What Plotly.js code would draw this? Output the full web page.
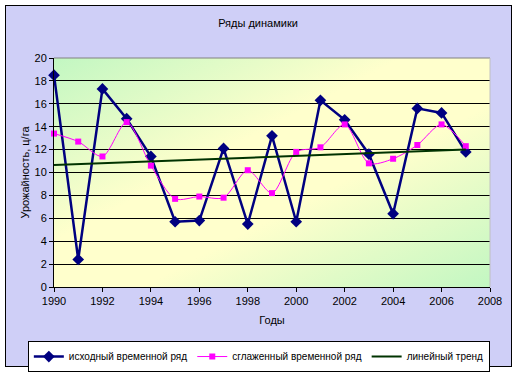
<!DOCTYPE html>
<html>
<head>
<meta charset="utf-8">
<script src="https://cdn.plot.ly/plotly-3.0.1.min.js"></script>
<style>
  html, body { margin:0; padding:0; background:#ffffff; }
  #frame { position:absolute; left:5px; top:5px; width:505px; height:360px;
           border:1px solid #000; background:#cfcff7; }
  #chart { position:absolute; left:0; top:0; width:516px; height:372px; }
</style>
</head>
<body>
<div id="frame"></div>
<div id="chart"></div>
<script>
const years = [1990,1991,1992,1993,1994,1995,1996,1997,1998,1999,2000,2001,2002,2003,2004,2005,2006,2007];
const original = [18.5,2.4,17.3,14.7,11.4,5.7,5.8,12.1,5.5,13.2,5.7,16.3,14.6,11.6,6.4,15.6,15.2,11.8];
const smoothed = [13.4,12.7,11.4,14.4,10.6,7.7,7.9,7.8,10.2,8.2,11.8,12.2,14.2,10.8,11.2,12.4,14.2,12.3];
const trendYears = [1990, 2007];
const trendValues = [10.65, 12.0];
const xTicks = [1990,1992,1994,1996,1998,2000,2002,2004,2006,2008];
const yTicks = [0,2,4,6,8,10,12,14,16,18,20];
const names = ['исходный временной ряд', 'сглаженный временной ряд', 'линейный тренд'];

const FONT = 'Arial, "Liberation Sans", sans-serif';

const gradSvg = '<svg xmlns="http://www.w3.org/2000/svg" width="100" height="100" preserveAspectRatio="none">' +
  '<defs><linearGradient id="g" x1="0" y1="0" x2="1" y2="1">' +
  '<stop offset="0" stop-color="#c2f7c2"/>' +
  '<stop offset="0.4" stop-color="#ffffcc"/>' +
  '<stop offset="0.6" stop-color="#ffffcc"/>' +
  '<stop offset="1" stop-color="#c2f7c2"/>' +
  '</linearGradient></defs><rect width="100" height="100" fill="url(#g)"/></svg>';
const gradUri = 'data:image/svg+xml;charset=utf-8,' + encodeURIComponent(gradSvg);

const traces = [
  { x: years, y: original, name: names[0], type: 'scatter', mode: 'lines+markers',
    line: { color: '#000080', width: 2.5 },
    marker: { symbol: 'diamond', size: 9, color: '#000080' }, cliponaxis: false },
  { x: years, y: smoothed, name: names[1], type: 'scatter', mode: 'lines+markers',
    line: { color: '#ff00ff', width: 1, shape: 'spline', smoothing: 0.8 },
    marker: { symbol: 'square', size: 6, color: '#ff00ff' }, cliponaxis: false },
  { x: trendYears, y: trendValues, name: names[2], type: 'scatter', mode: 'lines',
    line: { color: '#003300', width: 2 } }
];

const layout = {
  width: 516, height: 372,
  margin: { l: 54, r: 26, t: 58, b: 85, autoexpand: false },
  paper_bgcolor: 'rgba(0,0,0,0)',
  plot_bgcolor: 'rgba(0,0,0,0)',
  font: { family: FONT, size: 11, color: '#000' },
  title: { text: 'Ряды динамики', font: { family: FONT, size: 11, color: '#000' },
           x: 0.5, xanchor: 'center', y: 1 - 23/372, yanchor: 'middle' },
  xaxis: {
    range: [1990, 2008], tickvals: xTicks, ticktext: xTicks.map(String),
    showgrid: false, zeroline: false,
    showline: true, linecolor: '#000', linewidth: 1, mirror: false,
    ticks: 'outside', ticklen: 4, tickcolor: '#000',
    tickfont: { family: FONT, size: 11 },
    title: { text: 'Годы', font: { family: FONT, size: 11 }, standoff: 10 }
  },
  yaxis: {
    range: [0, 20], tickvals: yTicks, ticktext: yTicks.map(String),
    showgrid: true, gridcolor: '#000', gridwidth: 1, zeroline: false,
    showline: true, linecolor: '#000', linewidth: 1,
    ticks: 'outside', ticklen: 4, tickcolor: '#000',
    tickfont: { family: FONT, size: 11 },
    title: { text: 'Урожайность, ц/га', font: { family: FONT, size: 11 }, standoff: 2 }
  },
  shapes: [
    { type: 'line', xref: 'paper', yref: 'paper', x0: 0, x1: 1, y0: 1, y1: 1,
      line: { color: '#808080', width: 1 } },
    { type: 'line', xref: 'paper', yref: 'paper', x0: 1, x1: 1, y0: 0, y1: 1,
      line: { color: '#c0c0c0', width: 1 } }
  ],
  images: [
    { source: gradUri, xref: 'paper', yref: 'paper', x: 0, y: 1, sizex: 1, sizey: 1,
      xanchor: 'left', yanchor: 'top', sizing: 'stretch', layer: 'below' }
  ],
  showlegend: true,
  legend: {
    orientation: 'h', x: -0.06, xanchor: 'left', y: -0.236, yanchor: 'top',
    bgcolor: '#ffffff', bordercolor: '#000', borderwidth: 1,
    font: { family: FONT, size: 10 }, itemwidth: 30, tracegroupgap: 0
  }
};

Plotly.newPlot('chart', traces, layout, { displayModeBar: false, staticPlot: true });
</script>
</body>
</html>
